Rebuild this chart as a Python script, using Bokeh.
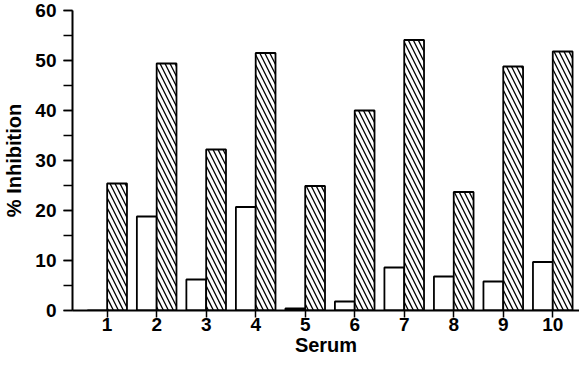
from bokeh.plotting import figure
from bokeh.models import ColumnDataSource, FixedTicker, SingleIntervalTicker, Range1d
from bokeh.transform import dodge
from bokeh.embed import file_html
from bokeh.resources import INLINE

# Data
serum = [1, 2, 3, 4, 5, 6, 7, 8, 9, 10]
open_vals = [0.0, 18.8, 6.2, 20.7, 0.4, 1.8, 8.6, 6.8, 5.8, 9.7]
hatched_vals = [25.4, 49.4, 32.2, 51.5, 24.9, 40.0, 54.1, 23.7, 48.8, 51.8]
y_ticks = [0, 10, 20, 30, 40, 50, 60]

src = ColumnDataSource(dict(serum=serum, open=open_vals, hatched=hatched_vals))

p = figure(width=579, height=358, output_backend="svg", toolbar_location=None,
           x_range=Range1d(0.3, 10.54), y_range=Range1d(0, 60),
           min_border_left=65, min_border_right=0, min_border_top=10, min_border_bottom=40)
p.outline_line_color = None
p.xgrid.grid_line_color = None
p.ygrid.grid_line_color = None
p.background_fill_color = "white"

p.vbar(x=dodge("serum", -0.2, range=p.x_range), top="open", width=0.4, bottom=0,
       source=src, fill_color="white", line_color="black", line_width=1.8)
p.vbar(x=dodge("serum", 0.2, range=p.x_range), top="hatched", width=0.4, bottom=0,
       source=src, fill_color="white", line_color="black", line_width=1.8,
       hatch_pattern="\\", hatch_scale=10, hatch_weight=1.3, hatch_color="black")

font = "Liberation Sans"

xa = p.xaxis[0]
xa.ticker = FixedTicker(ticks=serum)
xa.axis_label = "Serum"
xa.axis_line_width = 2
xa.major_tick_out = 7
xa.major_tick_in = 0
xa.major_tick_line_width = 1.5
xa.minor_tick_line_color = None
xa.major_label_standoff = 0
xa.axis_label_standoff = 0

ya = p.yaxis[0]
ya.ticker = SingleIntervalTicker(interval=10, num_minor_ticks=2)
ya.axis_label = "% Inhibition"
ya.axis_line_width = 2
ya.major_tick_out = 9
ya.major_tick_in = 0
ya.minor_tick_out = 9
ya.minor_tick_in = 0
ya.major_tick_line_width = 1.5
ya.minor_tick_line_width = 1.5
ya.major_label_standoff = 7
ya.axis_label_standoff = 7

for ax in (xa, ya):
    ax.major_label_text_font = font
    ax.major_label_text_font_style = "bold"
    ax.major_label_text_font_size = "19px"
    ax.major_label_text_color = "black"
    ax.axis_label_text_font = font
    ax.axis_label_text_font_style = "bold"
    ax.axis_label_text_font_size = "20px"
    ax.axis_label_text_color = "black"
    ax.axis_line_color = "black"
    ax.major_tick_line_color = "black"

open("out.html", "w").write(file_html(p, INLINE))
